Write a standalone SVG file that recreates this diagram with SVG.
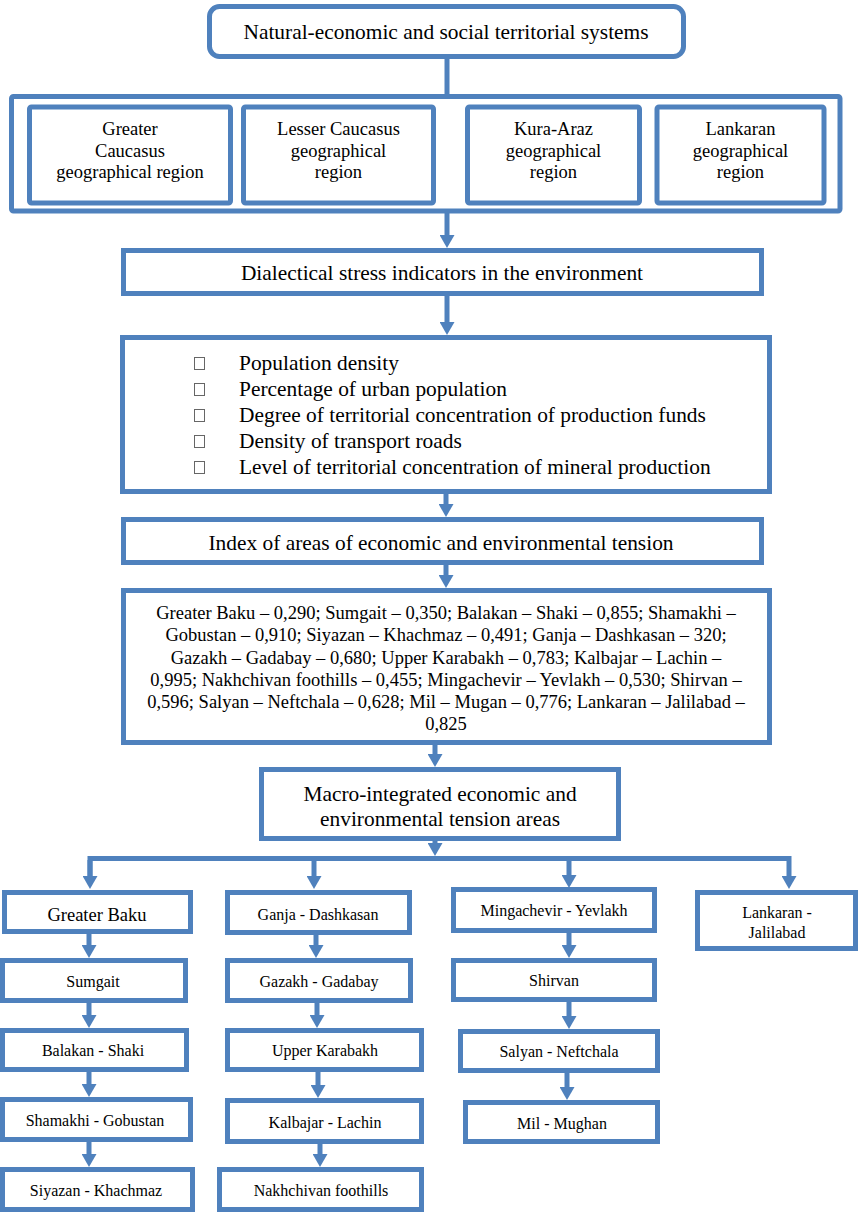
<svg xmlns="http://www.w3.org/2000/svg" width="860" height="1213" viewBox="0 0 860 1213">
<style>
.b{fill:#fff;stroke:#4F81BD;stroke-width:5}
.c{fill:none;stroke:#4F81BD;stroke-width:5}
.t{font-family:"Liberation Serif","Times New Roman",serif;fill:#000;text-anchor:middle}
.p{font-family:"Liberation Serif","Times New Roman",serif;fill:#000;text-anchor:start}
.l{font-size:21.4px}
.m{font-size:18.5px}
.s{font-size:16px}
.bl{fill:#fff;stroke:#666;stroke-width:1}
</style>
<defs>
<marker id="ah" markerUnits="userSpaceOnUse" viewBox="0 0 13 15" refX="0" refY="7.5" markerWidth="13" markerHeight="15" orient="auto">
<path d="M0,0 L13,7.5 L0,15 z" fill="#4F81BD"/>
</marker>
</defs>
<rect width="860" height="1213" fill="#fff"/>

<g id="connectors">
<line class="c" x1="447" y1="59" x2="447" y2="95"/>
<line class="c" x1="447" y1="213" x2="447" y2="235" marker-end="url(#ah)"/>
<line class="c" x1="447" y1="296" x2="447" y2="322" marker-end="url(#ah)"/>
<line class="c" x1="446" y1="494" x2="446" y2="504" marker-end="url(#ah)"/>
<line class="c" x1="446" y1="565" x2="446" y2="575" marker-end="url(#ah)"/>
<line class="c" x1="435" y1="745" x2="435" y2="754" marker-end="url(#ah)"/>
<line class="c" x1="435" y1="841" x2="435" y2="843" marker-end="url(#ah)"/>
<path class="c" d="M90,876 L90,858.5 L789,858.5 L789,876" marker-end="url(#ah)"/>
<line class="c" x1="90" y1="860" x2="90" y2="876" marker-end="url(#ah)"/>
<line class="c" x1="314" y1="858" x2="314" y2="876" marker-end="url(#ah)"/>
<line class="c" x1="569" y1="858" x2="569" y2="875" marker-end="url(#ah)"/>
<line class="c" x1="89" y1="934" x2="89" y2="945" marker-end="url(#ah)"/>
<line class="c" x1="89" y1="1003" x2="89" y2="1015" marker-end="url(#ah)"/>
<line class="c" x1="89" y1="1072" x2="89" y2="1084" marker-end="url(#ah)"/>
<line class="c" x1="89" y1="1142" x2="89" y2="1154" marker-end="url(#ah)"/>
<line class="c" x1="316" y1="935" x2="316" y2="945" marker-end="url(#ah)"/>
<line class="c" x1="317" y1="1003" x2="317" y2="1015" marker-end="url(#ah)"/>
<line class="c" x1="318" y1="1072" x2="318" y2="1085" marker-end="url(#ah)"/>
<line class="c" x1="320" y1="1144" x2="320" y2="1154" marker-end="url(#ah)"/>
<line class="c" x1="569" y1="933" x2="569" y2="945" marker-end="url(#ah)"/>
<line class="c" x1="569" y1="1002" x2="569" y2="1016" marker-end="url(#ah)"/>
<line class="c" x1="567" y1="1073" x2="567" y2="1087" marker-end="url(#ah)"/>
</g>

<g id="n-title">
<rect class="b" x="209.5" y="6.5" width="474" height="50" rx="10"/>
<text class="t l" x="446" y="39">Natural-economic and social territorial systems</text>
</g>

<g id="n-regions">
<rect class="b" x="11.5" y="96.5" width="828.5" height="114.5" rx="2"/>
</g>
<g id="n-greater-caucasus">
<rect class="b" x="29.5" y="107" width="201" height="96" rx="2"/>
<text class="t m" x="130" y="135">Greater</text>
<text class="t m" x="130" y="157">Caucasus</text>
<text class="t m" x="130" y="178">geographical region</text>
</g>
<g id="n-lesser-caucasus">
<rect class="b" x="243.5" y="107" width="190" height="96" rx="2"/>
<text class="t m" x="338.5" y="135">Lesser Caucasus</text>
<text class="t m" x="338.5" y="157">geographical</text>
<text class="t m" x="338.5" y="178">region</text>
</g>
<g id="n-kura-araz">
<rect class="b" x="467.5" y="107" width="172" height="96" rx="2"/>
<text class="t m" x="553.5" y="135">Kura-Araz</text>
<text class="t m" x="553.5" y="157">geographical</text>
<text class="t m" x="553.5" y="178">region</text>
</g>
<g id="n-lankaran-region">
<rect class="b" x="657" y="107" width="167" height="96" rx="2"/>
<text class="t m" x="740.5" y="135">Lankaran</text>
<text class="t m" x="740.5" y="157">geographical</text>
<text class="t m" x="740.5" y="178">region</text>
</g>

<g id="n-dialectical">
<rect class="b" x="123.5" y="250.5" width="638" height="43"/>
<text class="t l" x="442" y="280">Dialectical stress indicators in the environment</text>
</g>

<g id="n-indicators">
<rect class="b" x="122.5" y="337.5" width="647" height="154"/>
<rect class="bl" x="194.5" y="357.5" width="10" height="12"/>
<rect class="bl" x="194.5" y="383.5" width="10" height="12"/>
<rect class="bl" x="194.5" y="409.5" width="10" height="12"/>
<rect class="bl" x="194.5" y="435.5" width="10" height="12"/>
<rect class="bl" x="194.5" y="461.5" width="10" height="12"/>
<text class="p l" x="239" y="370">Population density</text>
<text class="p l" x="239" y="396">Percentage of urban population</text>
<text class="p l" x="239" y="422">Degree of territorial concentration of production funds</text>
<text class="p l" x="239" y="448">Density of transport roads</text>
<text class="p l" x="239" y="474">Level of territorial concentration of mineral production</text>
</g>

<g id="n-index">
<rect class="b" x="123.5" y="519.5" width="638" height="43"/>
<text class="t l" x="441" y="550">Index of areas of economic and environmental tension</text>
</g>

<g id="n-values">
<rect class="b" x="123.5" y="590.5" width="646" height="152"/>
<text class="t m" x="446" y="619">Greater Baku – 0,290; Sumgait – 0,350; Balakan – Shaki – 0,855; Shamakhi –</text>
<text class="t m" x="446" y="641">Gobustan – 0,910; Siyazan – Khachmaz – 0,491; Ganja – Dashkasan – 320;</text>
<text class="t m" x="446" y="663.5">Gazakh – Gadabay – 0,680; Upper Karabakh – 0,783; Kalbajar – Lachin –</text>
<text class="t m" x="446" y="686">0,995; Nakhchivan foothills – 0,455; Mingachevir – Yevlakh – 0,530; Shirvan –</text>
<text class="t m" x="446" y="708">0,596; Salyan – Neftchala – 0,628; Mil – Mugan – 0,776; Lankaran – Jalilabad –</text>
<text class="t m" x="446" y="730">0,825</text>
</g>

<g id="n-macro">
<rect class="b" x="261.5" y="769.5" width="357" height="69"/>
<text class="t l" x="440" y="801">Macro-integrated economic and</text>
<text class="t l" x="440" y="826">environmental tension areas</text>
</g>

<g id="n-greater-baku">
<rect class="b" x="4.5" y="892.5" width="186" height="39"/>
<text class="t m" x="97" y="921">Greater Baku</text>
</g>
<g id="n-sumgait">
<rect class="b" x="2.5" y="960.5" width="183" height="40"/>
<text class="t s" x="93" y="987">Sumgait</text>
</g>
<g id="n-balakan-shaki">
<rect class="b" x="2.5" y="1030.5" width="184" height="39"/>
<text class="t s" x="93" y="1056">Balakan - Shaki</text>
</g>
<g id="n-shamakhi-gobustan">
<rect class="b" x="2.5" y="1099.5" width="188" height="40"/>
<text class="t s" x="95" y="1126">Shamakhi - Gobustan</text>
</g>
<g id="n-siyazan-khachmaz">
<rect class="b" x="2.5" y="1169.5" width="190" height="40"/>
<text class="t s" x="96" y="1196">Siyazan - Khachmaz</text>
</g>

<g id="n-ganja-dashkasan">
<rect class="b" x="227.5" y="892.5" width="182" height="40"/>
<text class="t s" x="318" y="920">Ganja - Dashkasan</text>
</g>
<g id="n-gazakh-gadabay">
<rect class="b" x="227.5" y="960.5" width="183" height="40"/>
<text class="t s" x="319" y="987">Gazakh - Gadabay</text>
</g>
<g id="n-upper-karabakh">
<rect class="b" x="227.5" y="1030.5" width="194" height="39"/>
<text class="t s" x="325" y="1056">Upper Karabakh</text>
</g>
<g id="n-kalbajar-lachin">
<rect class="b" x="227.5" y="1100.5" width="194" height="41"/>
<text class="t s" x="325" y="1128">Kalbajar - Lachin</text>
</g>
<g id="n-nakhchivan-foothills">
<rect class="b" x="219.5" y="1169.5" width="202" height="40"/>
<text class="t s" x="321" y="1196">Nakhchivan foothills</text>
</g>

<g id="n-mingachevir-yevlakh">
<rect class="b" x="453.5" y="889.5" width="201" height="41"/>
<text class="t s" x="554" y="916">Mingachevir - Yevlakh</text>
</g>
<g id="n-shirvan">
<rect class="b" x="453.5" y="960.5" width="201" height="39"/>
<text class="t s" x="554" y="986">Shirvan</text>
</g>
<g id="n-salyan-neftchala">
<rect class="b" x="460.5" y="1031.5" width="197" height="39"/>
<text class="t s" x="559" y="1057">Salyan - Neftchala</text>
</g>
<g id="n-mil-mughan">
<rect class="b" x="465.5" y="1102.5" width="192" height="39"/>
<text class="t s" x="562" y="1129">Mil - Mughan</text>
</g>

<g id="n-lankaran-jalilabad">
<rect class="b" x="697.5" y="892.5" width="158" height="56"/>
<text class="t s" x="777" y="918">Lankaran -</text>
<text class="t s" x="777" y="938">Jalilabad</text>
</g>
</svg>
